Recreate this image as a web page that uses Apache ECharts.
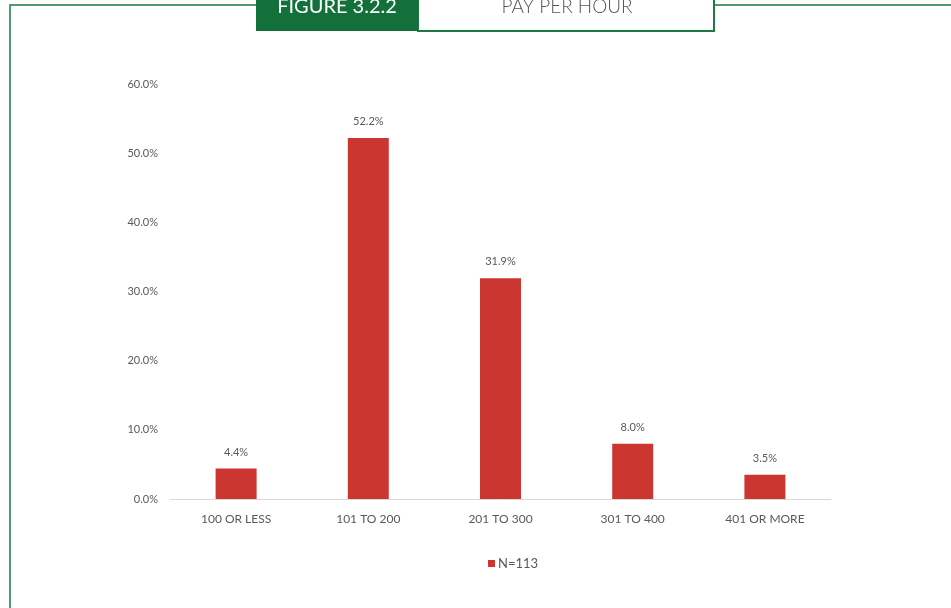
<!DOCTYPE html>
<html>
<head>
<meta charset="utf-8">
<script src="https://cdn.jsdelivr.net/npm/echarts@6/dist/echarts.min.js"></script>
<style>
html,body{margin:0;padding:0;background:#fff;}
#c{width:951px;height:608px;}
</style>
</head>
<body>
<div id="c"></div>
<script>
const categories = ['100 OR LESS', '101 TO 200', '201 TO 300', '301 TO 400', '401 OR MORE'];
const values = [4.4, 52.2, 31.9, 8.0, 3.5];
const seriesName = 'N=113';
const yTicks = [0, 10, 20, 30, 40, 50, 60];
const figureLabel = 'FIGURE 3.2.2';
const figureTitle = 'PAY PER HOUR';

const chart = echarts.init(document.getElementById('c'));
const font = 'Lato, "Open Sans", sans-serif';
chart.setOption({
  animation: false,
  backgroundColor: '#fff',
  grid: {left: 170, right: 120, top: 84, bottom: 109},
  legend: {
    data: [seriesName],
    bottom: 33,
    left: 483,
    itemWidth: 7, itemHeight: 7,
    itemGap: 4,
    icon: 'rect',
    textStyle: {color: '#595959', fontSize: 13, fontFamily: font, padding: [0,0,0,-2]}
  },
  xAxis: {
    type: 'category',
    data: categories,
    axisLine: {lineStyle: {color: '#d9d9d9', width: 1}},
    axisTick: {show: false},
    axisLabel: {color: '#595959', fontSize: 12, fontFamily: font, margin: 14}
  },
  yAxis: {
    type: 'value',
    min: yTicks[0], max: yTicks[yTicks.length - 1], interval: 10,
    axisLine: {show: false},
    axisTick: {show: false},
    splitLine: {show: false},
    axisLabel: {color: '#595959', fontSize: 11, fontFamily: font, margin: 12,
      formatter: v => v.toFixed(1) + '%'}
  },
  series: [{
    name: seriesName,
    type: 'bar',
    data: values,
    barWidth: 41,
    itemStyle: {color: '#CC3630'},
    label: {show: true, position: 'top', distance: 11, color: '#595959', fontSize: 11, fontFamily: font,
      formatter: p => p.value.toFixed(1) + '%'}
  }],
  graphic: [
    {type: 'line', shape: {x1: 9, y1: 5, x2: 257, y2: 5}, style: {stroke: '#4f9a6f', lineWidth: 2}},
    {type: 'line', shape: {x1: 715, y1: 5, x2: 951, y2: 5}, style: {stroke: '#4f9a6f', lineWidth: 2}},
    {type: 'line', shape: {x1: 10, y1: 4, x2: 10, y2: 608}, style: {stroke: '#4f9a6f', lineWidth: 2}},
    {type: 'rect', shape: {x: 418, y: -2, width: 296, height: 33}, style: {fill: '#fff', stroke: '#1c7a42', lineWidth: 2}},
    {type: 'rect', shape: {x: 256, y: 0, width: 162, height: 31}, style: {fill: '#13703b'}},
    {type: 'text', x: 337, y: 7, style: {text: figureLabel, fill: '#fff', font: '20px ' + font, align: 'center', verticalAlign: 'middle'}},
    {type: 'text', x: 567, y: 7, style: {text: figureTitle, fill: '#555', font: '300 19px ' + font, align: 'center', verticalAlign: 'middle'}}
  ]
});
</script>
</body>
</html>
